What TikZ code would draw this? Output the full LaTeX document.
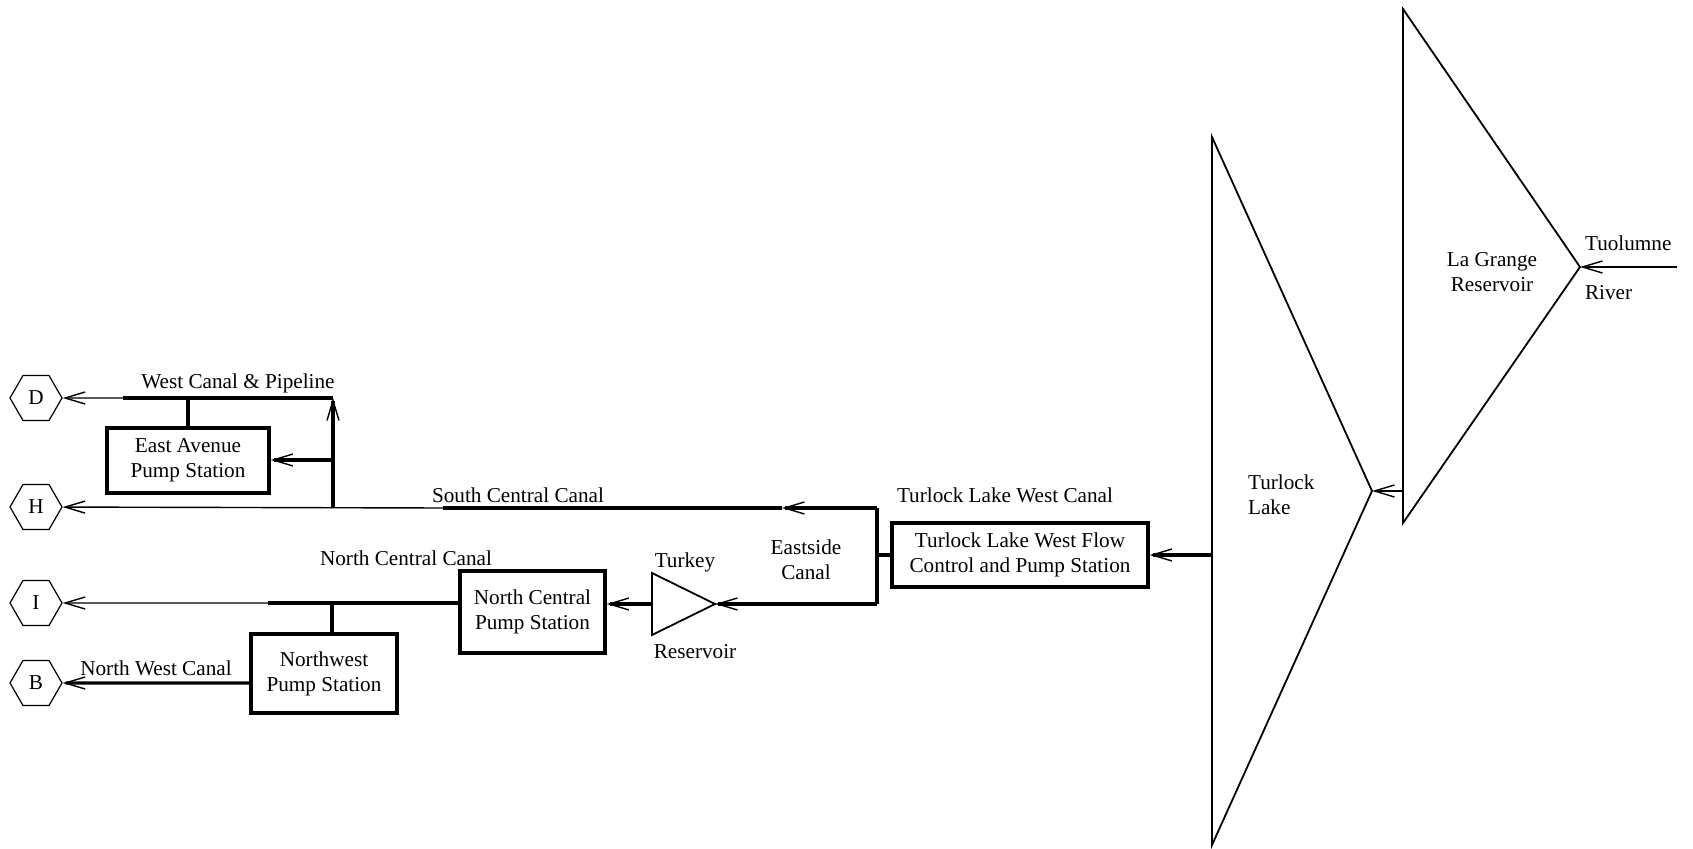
\documentclass[tikz,border=0pt]{standalone}
\usepackage{fontspec}
\setmainfont{Liberation Serif}
\usetikzlibrary{arrows.meta,shapes.geometric}
\tikzset{
	canal/.style={line width=1.6pt},
	feeder/.style={line width=0.7pt},
	basin/.style={line width=0.9pt, line join=miter},
	pumpbox/.style={draw, line width=1.6pt, align=center, inner sep=0pt},
	outlet/.style={draw, regular polygon, regular polygon sides=6, minimum size=26pt, inner sep=0pt, line width=0.6pt},
}

\begin{document}
\begin{tikzpicture}[x=0.5pt, y=-0.5pt, font=\fontsize{10.6}{12.5}\selectfont,
		>={Straight Barb[length=10pt, width=6pt, line width=0.7pt]}]
			%%%%% START %%%%%
			\useasboundingbox (0,0) rectangle (1693,849);
			
			% reservoirs
			\draw[basin] (1403,9) -- (1580,267) -- (1403,523) -- cycle;
			\draw[basin] (1212,137) -- (1372,491) -- (1212,845) -- cycle;
			\draw[basin] (652,573) -- (715,604) -- (652,635) -- cycle;
			
			\coordinate (river) at (1677,267);
			\coordinate (lagrange) at (1580,267);
			\coordinate (lagrangeout) at (1403,491);
			\coordinate (turlock) at (1372,491);
			\coordinate (turlockout) at (1212,555);
			\coordinate (turkeyin) at (715,604);
			\coordinate (turkeyout) at (652,604);
			
			% pump stations and outlets
			\node[pumpbox, minimum width=128pt, minimum height=32pt] (tlwest) at (1020,555) {Turlock Lake West Flow\\Control and Pump Station};
			\node[pumpbox, minimum width=72.5pt, minimum height=41pt] (northcentral) at (532.5,612) {North Central\\Pump Station};
			\node[pumpbox, minimum width=73pt, minimum height=39.5pt] (northwest) at (324,673.5) {Northwest\\Pump Station};
			\node[pumpbox, minimum width=81pt, minimum height=32.5pt] (eastave) at (188,460.5) {East Avenue\\Pump Station};
			
			\node[outlet] (D) at (36,398) {D};
			\node[outlet] (H) at (36,507) {H};
			\node[outlet] (I) at (36,603) {I};
			\node[outlet] (B) at (36,683) {B};
			
			% Tuolumne into the lakes
			\draw[feeder, ->] (river) -- (lagrange);
			\draw[feeder, ->] (lagrangeout) -- (turlock);
			\draw[canal, ->] (turlockout) -- (tlwest);
			
			% Eastside Canal loop
			\coordinate (eastside) at (877,555);
			\coordinate (eastsidetop) at (877,508);
			\coordinate (eastsidebot) at (877,604);
			\coordinate (southmid) at (782,508);
			\coordinate (southend) at (443,508);
			\draw[canal] (tlwest.west) -- (eastside);
			\draw[canal] (eastsidetop) -- (eastsidebot);
			\draw[canal, ->] (eastsidetop) -- (southmid);
			\draw[canal] (southmid) -- (southend);
			\draw[feeder, ->] (southend) -- (H);
			\draw[canal, ->] (eastsidebot) -- (turkeyin);
			\draw[canal, ->] (turkeyout) -- (turkeyout -| northcentral.east);
			
			% North Central and North West
			\coordinate (ncsplit) at (268,603);
			\coordinate (nwtap) at (332,603);
			\draw[canal] (northcentral.west |- ncsplit) -- (ncsplit);
			\draw[feeder, ->] (ncsplit) -- (I);
			\draw[canal] (nwtap) -- (northwest.north -| nwtap);
			\draw[canal, ->] (northwest.west |- B) -- (B);
			
			% West Canal and East Avenue
			\coordinate (westriser) at (333,508);
			\coordinate (westtop) at (333,398);
			\coordinate (westsplit) at (123,398);
			\coordinate (eatap) at (333,460);
			\draw[canal, ->] (westriser) -- (westtop);
			\draw[canal] (westtop) -- (westsplit);
			\draw[feeder, ->] (westsplit) -- (D);
			\draw[canal, ->] (eatap) -- (eastave.east |- eatap);
			\draw[canal] (eastave.north) -- (eastave.north |- westtop);
			
			% labels
			\node (lblwest) at (238,383) {West Canal \& Pipeline};
			\node (lblsouth) at (518,495) {South Central Canal};
			\node (lblnc) at (406,558) {North Central Canal};
			\node (lblnw) at (156,668) {North West Canal};
			\node (lblturkey) at (685,562) {Turkey};
			\node (lblturkeyres) at (695,652) {Reservoir};
			\node[align=center] (lbleast) at (806,560) {Eastside\\Canal};
			\node (lbltlw) at (1005,495) {Turlock Lake West Canal};
			\node[align=left, anchor=west] (lblturlock) at (1241,495) {Turlock\\Lake};
			\node[align=center] (lbllagrange) at (1492,272) {La Grange\\Reservoir};
			\node[anchor=west] (lbltuol) at (1578,243) {Tuolumne};
			\node[anchor=west] (lblriver) at (1578,293) {River};
			%%%%% END %%%%%
\end{tikzpicture}
\end{document}
